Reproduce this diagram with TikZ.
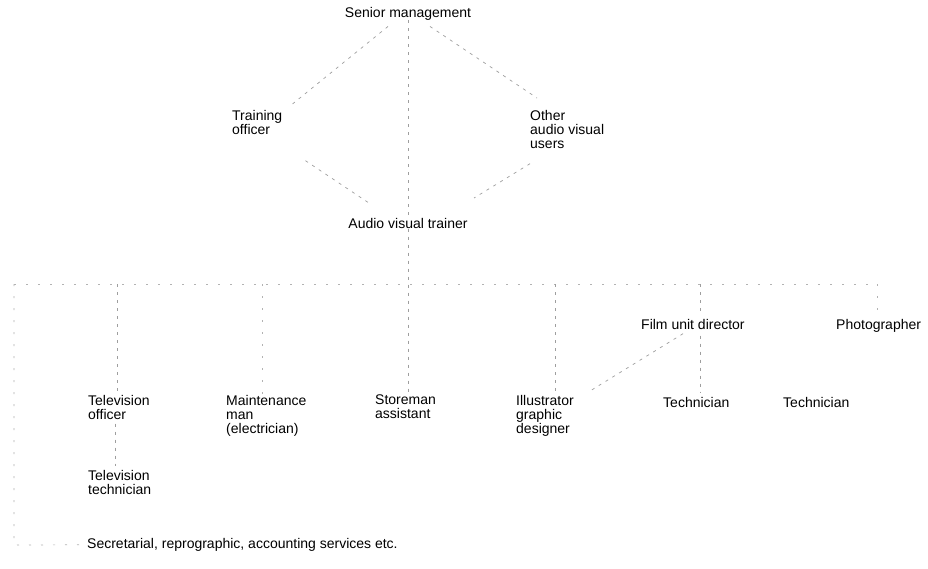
\documentclass[tikz,border=0pt]{standalone}
\usepackage{fontspec}
\setmainfont{Liberation Sans}
\begin{document}
\begin{tikzpicture}[x=1pt,y=-1pt,
  lbl/.style={inner sep=0pt, align=left, anchor=north west,
    font=\fontsize{14}{14}\selectfont, text=black},
  ctr/.style={lbl, anchor=north, align=center},
  link/.style={draw=black!38, line width=0.7pt, dash pattern=on 3pt off 5pt},
  bus/.style={link, draw=black!30, dash pattern=on 2pt off 10pt}]
\useasboundingbox[fill=white] (0,0) rectangle (928,568);

% upper tier
\node[ctr] (sm) at (408,7) {Senior management};
\node[lbl] (train) at (232,110) {Training\\officer};
\node[lbl] (other) at (530,110) {Other\\audio visual\\users};
\node[ctr] (av) at (408,218) {Audio visual trainer};

% second tier
\node[lbl] (film) at (641,319) {Film unit director};
\node[lbl] (photo) at (836,319) {Photographer};

% third tier
\node[lbl] (tvo) at (88,395) {Television\\officer};
\node[lbl] (maint) at (226,395) {Maintenance\\man\\(electrician)};
\node[lbl] (store) at (375,395) {Storeman\\assistant};
\node[lbl] (ill) at (516,395) {Illustrator\\graphic\\designer};
\node[lbl] (techa) at (663,397) {Technician};
\node[lbl] (techb) at (783,397) {Technician};
\node[lbl] (tvt) at (88,470) {Television\\technician};
\node[lbl] (sec) at (87,538) {Secretarial, reprographic, accounting services etc.};

% junctions of the distribution line
\coordinate (jl) at (14,284);
\coordinate (jr) at (877,284);
\coordinate (js) at (14,545);
\coordinate (jtv) at (117,284);
\coordinate (jmt) at (262,284);
\coordinate (jst) at (408,284);
\coordinate (jil) at (555,284);
\coordinate (jfm) at (700,284);

% reporting lines from senior management (yshift is measured upwards on the page)
\draw[link] (sm.south) -- (av.north);
\draw[link] ([xshift=-20pt,yshift=-6pt]sm.south) -- ([xshift=10pt,yshift=6pt]train.north east);
\draw[link] ([xshift=22pt,yshift=-6pt]sm.south) -- ([xshift=7pt,yshift=12pt]other.north west);
\draw[link] ([xshift=23pt,yshift=-26pt]train.south east) -- ([xshift=-36pt,yshift=13pt]av.north);
\draw[link] ([yshift=-15pt]other.south west) -- ([xshift=66pt,yshift=20pt]av.north);

% distribution line below the trainer
\draw[link] (av.south) -- (jst) -- (store.north -| jst);
\draw[bus] (jl) -- (jr);
\draw[bus] (jl) -- (js) -- (sec.west);
\draw[link] (jtv) -- (tvo.north -| jtv);
\draw[bus] (jmt) -- (maint.north -| jmt);
\draw[link] (jil) -- ([yshift=4pt]ill.north -| jil);
\draw[link] (jfm) -- ([yshift=4pt]film.north -| jfm);
\draw[bus] (jr) -- ([yshift=2pt]photo.north -| jr);

% lines below the film unit
\draw[link] ([yshift=-6pt]film.south -| jfm) -- ([yshift=4pt]techa.north -| jfm);
\draw[link] ([xshift=42pt,yshift=-4pt]film.south west) -- ([xshift=74pt,yshift=4pt]ill.north west);

% television unit
\draw[link] ([xshift=27pt,yshift=-4pt]tvo.south west) -- ([xshift=27pt,yshift=4pt]tvt.north west);
\end{tikzpicture}
\end{document}
